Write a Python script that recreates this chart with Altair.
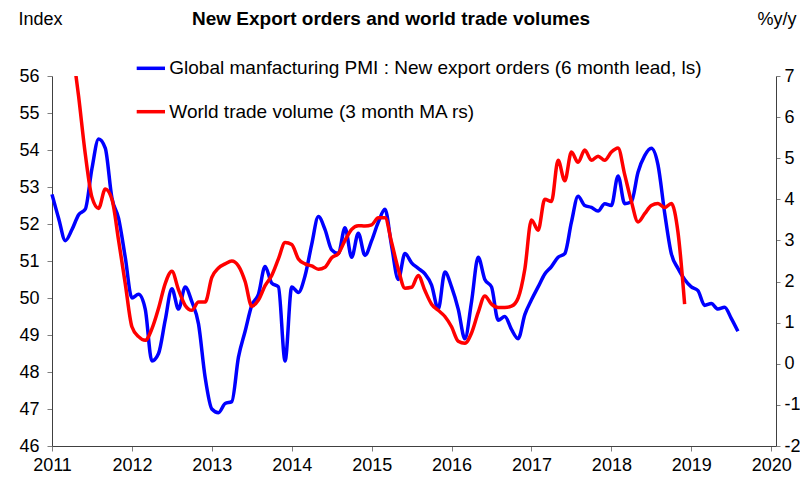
import altair as alt
import pandas as pd

TITLE = "New Export orders and world trade volumes"
LEFT_LABEL = "Index"
RIGHT_LABEL = "%y/y"
PMI_NAME = "Global manfacturing PMI : New export orders (6 month lead, ls)"
TRADE_NAME = "World trade volume (3 month MA rs)"

START_YEAR = 2011
# Global manufacturing PMI new export orders (6 month lead), monthly from Jan 2011
pmi_start_month = 0
pmi = [
    52.8, 52.15, 51.55, 51.85, 52.25, 52.4, 53.5, 54.3, 54.05, 52.7, 52.15, 51.1,
    50.0, 50.1, 49.7, 48.3, 48.5, 49.4, 50.25, 49.7, 50.3, 49.9, 49.3, 47.85,
    47.0, 46.9, 47.15, 47.2, 48.4, 49.1, 49.8, 50.1, 50.85, 50.4, 50.3, 48.3,
    50.3, 50.15, 50.6, 51.45, 52.2, 51.85, 51.3, 51.2, 51.9, 51.1, 51.75, 51.15,
    51.55, 52.05, 52.4, 51.4, 50.5, 51.2, 50.95, 50.8, 50.65, 50.35, 49.7, 50.7,
    50.3, 49.7, 48.9, 49.9, 51.1, 50.5, 50.3, 49.4, 49.5, 49.15, 48.9, 49.55,
    49.95, 50.3, 50.65, 50.85, 51.1, 51.2, 52.05, 52.75, 52.5, 52.45, 52.35, 52.55,
    52.5, 53.3, 52.55, 52.6, 53.4, 53.85, 54.05, 53.6, 52.3, 51.2, 50.8, 50.5,
    50.3, 50.2, 49.8, 49.85, 49.7, 49.75, 49.45, 49.1,
]
# World trade volume (3 month MA, %y/y), monthly from Mar 2011
trade_start_month = 2
trade = [
    9.0, 7.75, 6.5, 5.1, 4.05, 3.78, 4.25, 4.0, 3.0, 1.95,
    0.9, 0.66, 0.57, 0.85, 1.35, 1.95, 2.25, 1.8, 1.42, 1.3, 1.5, 1.5,
    2.1, 2.33, 2.43, 2.5, 2.38, 2.0, 1.4, 1.55, 1.9, 2.15, 2.55, 2.95,
    2.9, 2.55, 2.43, 2.38, 2.3, 2.35, 2.58, 2.68, 3.0, 3.27, 3.36, 3.35,
    3.38, 3.55, 3.55, 2.95, 2.3, 1.84, 1.86, 2.15, 1.78, 1.45, 1.3, 1.15,
    0.9, 0.55, 0.5, 0.75, 1.25, 1.65, 1.45, 1.37, 1.37, 1.4, 1.6, 2.3,
    3.5, 3.25, 4.0, 3.95, 4.95, 4.45, 5.15, 4.9, 5.2, 4.95, 5.05, 4.95,
    5.15, 5.25, 4.6, 3.95, 3.45, 3.65, 3.85, 3.9, 3.8, 3.9, 3.2, 1.45,
]
year_ticks = list(range(2011, 2021))
left_ticks = list(range(46, 57))
right_ticks = list(range(-2, 8))
x_domain = [2011, 2020.06]
left_domain = [46, 56]
right_domain = [-2, 7]

pmi_df = pd.DataFrame({
    "t": [START_YEAR + (pmi_start_month + i) / 12 for i in range(len(pmi))],
    "v": pmi,
})
trade_df = pd.DataFrame({
    "t": [START_YEAR + (trade_start_month + i) / 12 for i in range(len(trade))],
    "v": trade,
})
one = pd.DataFrame({"k": [0]})

FONT = "Liberation Sans"
FS = 18
FS_TEXT = 19
W, H = 724, 370
TOP_Y = -57

x_enc = alt.X(
    "t:Q",
    scale=alt.Scale(domain=x_domain, nice=False, zero=False),
    axis=alt.Axis(values=year_ticks, format="d", title="", tickSize=5,
                  labelPadding=5, orient="bottom", labelFlush=False,
                  labelOverlap=False),
)

blue = alt.Chart(pmi_df).mark_line(
    color="#0000FF", strokeWidth=3.5, interpolate="monotone"
).encode(
    x=x_enc,
    y=alt.Y(
        "v:Q",
        scale=alt.Scale(domain=left_domain, nice=False, zero=False),
        axis=alt.Axis(orient="left", values=left_ticks, tickSize=5, labelPadding=8,
                      labelFlush=False,
                      title=LEFT_LABEL, titleAngle=0, titleX=-34, titleY=TOP_Y,
                      titleAlign="left", titleBaseline="middle",
                      titleFont=FONT, titleFontSize=FS, titleFontWeight="normal",
                      titleColor="#000000"),
    ),
)

red = alt.Chart(trade_df).mark_line(
    color="#FF0000", strokeWidth=3.5, interpolate="monotone", clip=True
).encode(
    x=x_enc,
    y=alt.Y(
        "v:Q",
        scale=alt.Scale(domain=right_domain, nice=False, zero=False),
        axis=alt.Axis(orient="right", values=right_ticks, tickSize=4, labelPadding=4,
                      labelFlush=False, labelExpr="'' + datum.value",
                      title=RIGHT_LABEL, titleAngle=0, titleX=-19, titleY=TOP_Y,
                      titleAlign="left", titleBaseline="middle",
                      titleFont=FONT, titleFontSize=FS, titleFontWeight="normal",
                      titleColor="#000000"),
    ),
)

title = alt.Chart(one).mark_text(
    font=FONT, fontSize=FS_TEXT, fontWeight="bold", align="center", baseline="middle",
    color="#000000",
).encode(x=alt.value(339), y=alt.value(TOP_Y), text=alt.value(TITLE))

leg_blue_line = alt.Chart(one).mark_rule(color="#0000FF", strokeWidth=3.5).encode(
    x=alt.value(84.7), x2=alt.value(113), y=alt.value(-7.7))
leg_red_line = alt.Chart(one).mark_rule(color="#FF0000", strokeWidth=3.5).encode(
    x=alt.value(84.7), x2=alt.value(113), y=alt.value(35.7))
leg_blue_text = alt.Chart(one).mark_text(
    font=FONT, fontSize=FS_TEXT, align="left", baseline="middle", color="#000000"
).encode(x=alt.value(117.3), y=alt.value(-7.7), text=alt.value(PMI_NAME))
leg_red_text = alt.Chart(one).mark_text(
    font=FONT, fontSize=FS_TEXT, align="left", baseline="middle", color="#000000"
).encode(x=alt.value(117.3), y=alt.value(35.7), text=alt.value(TRADE_NAME))

chart = alt.layer(
    blue, red, title, leg_blue_line, leg_red_line, leg_blue_text, leg_red_text
).resolve_scale(
    y="independent"
).properties(
    width=W, height=H,
    autosize=alt.AutoSizeParams(type="none"),
    padding={"left": 44, "top": 68, "right": 24, "bottom": 30},
    background="white",
).configure_view(
    stroke=None
).configure_axis(
    grid=False,
    domainColor="#404040",
    domainWidth=1,
    tickColor="#7f7f7f",
    tickWidth=1,
    labelFont=FONT,
    labelFontSize=FS,
    labelColor="#000000",
)

chart.save("out.html", embed_options={"renderer": "svg", "actions": False})
